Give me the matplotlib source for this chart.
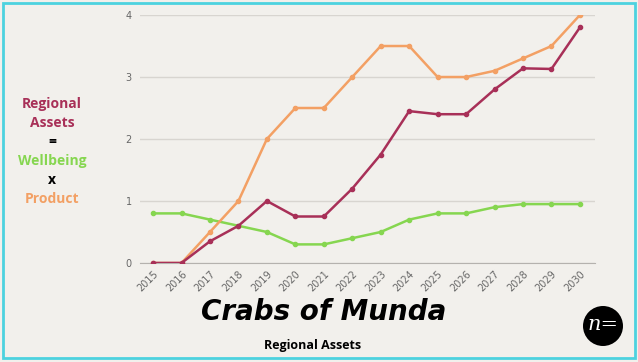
import matplotlib.pyplot as plt
from matplotlib.patches import Circle, Rectangle

# data
years = list(range(2015, 2031))
product = [0, 0, 0.5, 1.0, 2.0, 2.5, 2.5, 3.0, 3.5, 3.5, 3.0, 3.0, 3.1, 3.3, 3.5, 4.0]
regional_assets = [0, 0, 0.35, 0.6, 1.0, 0.75, 0.75, 1.2, 1.75, 2.45, 2.4, 2.4, 2.8, 3.14, 3.13, 3.8]
wellbeing = [0.8, 0.8, 0.7, 0.6, 0.5, 0.3, 0.3, 0.4, 0.5, 0.7, 0.8, 0.8, 0.9, 0.95, 0.95, 0.95]
y_ticks = [0, 1, 2, 3, 4]

bg = '#f2f0ec'
c_orange = '#f3a064'
c_red = '#a83058'
c_green = '#86d650'

fig = plt.figure(figsize=(6.38, 3.62), dpi=100)
fig.patch.set_facecolor(bg)
ax = fig.add_axes([0.2194, 0.2735, 0.7132, 0.685])
ax.set_facecolor(bg)

for vals, col in [(wellbeing, c_green), (product, c_orange), (regional_assets, c_red)]:
    ax.plot(years, vals, color=col, linewidth=1.8, marker='o', markersize=3)

ax.set_xlim(2014.54, 2030.53)
ax.set_ylim(0, 4)
ax.set_xticks(years)
ax.set_xticklabels([str(y) for y in years], rotation=45, ha='right', rotation_mode='anchor',
                   fontsize=7, color='#666666')
ax.set_yticks(y_ticks)
ax.set_yticklabels([str(t) for t in y_ticks], fontsize=7, color='#666666')
ax.tick_params(length=0, pad=6)
ax.tick_params(axis='x', pad=4)
ax.grid(axis='y', color='#d8d5d0', linewidth=1)
ax.set_axisbelow(True)
for s in ['top', 'right', 'left']:
    ax.spines[s].set_visible(False)
ax.spines['bottom'].set_color('#b5b2ae')
ax.spines['bottom'].set_zorder(0)

# left side formula
lines = [('Regional', c_red), ('Assets', c_red), ('=', 'black'),
         ('Wellbeing', c_green), ('x', 'black'), ('Product', c_orange)]
for i, (txt, col) in enumerate(lines):
    fig.text(52 / 638, 1 - (104 + 19 * i) / 362, txt, color=col, fontsize=10,
             fontweight='bold', ha='center', va='center', family='Open Sans')

# titles
fig.text(324 / 638, 1 - 312 / 362, 'Crabs of Munda', fontsize=20, fontstyle='italic',
         fontweight='bold', ha='center', va='center', family='DejaVu Sans')
fig.text(313 / 638, 1 - 345 / 362, 'Regional Assets', fontsize=9, fontweight='bold',
         ha='center', va='center', family='Open Sans')

# logo
fig.patches.append(Circle((603, 362 - 326), 20, transform=None, facecolor='black',
                          edgecolor='none'))
fig.text(603 / 638, 1 - 325 / 362, 'n=', color='white', fontsize=15, fontstyle='italic',
         ha='center', va='center', family='DejaVu Serif')

# border
fig.patches.append(Rectangle((0.005, 0.01), 0.99, 0.983, transform=fig.transFigure,
                             fill=False, edgecolor='#4dd2df', linewidth=2))

fig.savefig('out.png', dpi=100, facecolor=bg)
